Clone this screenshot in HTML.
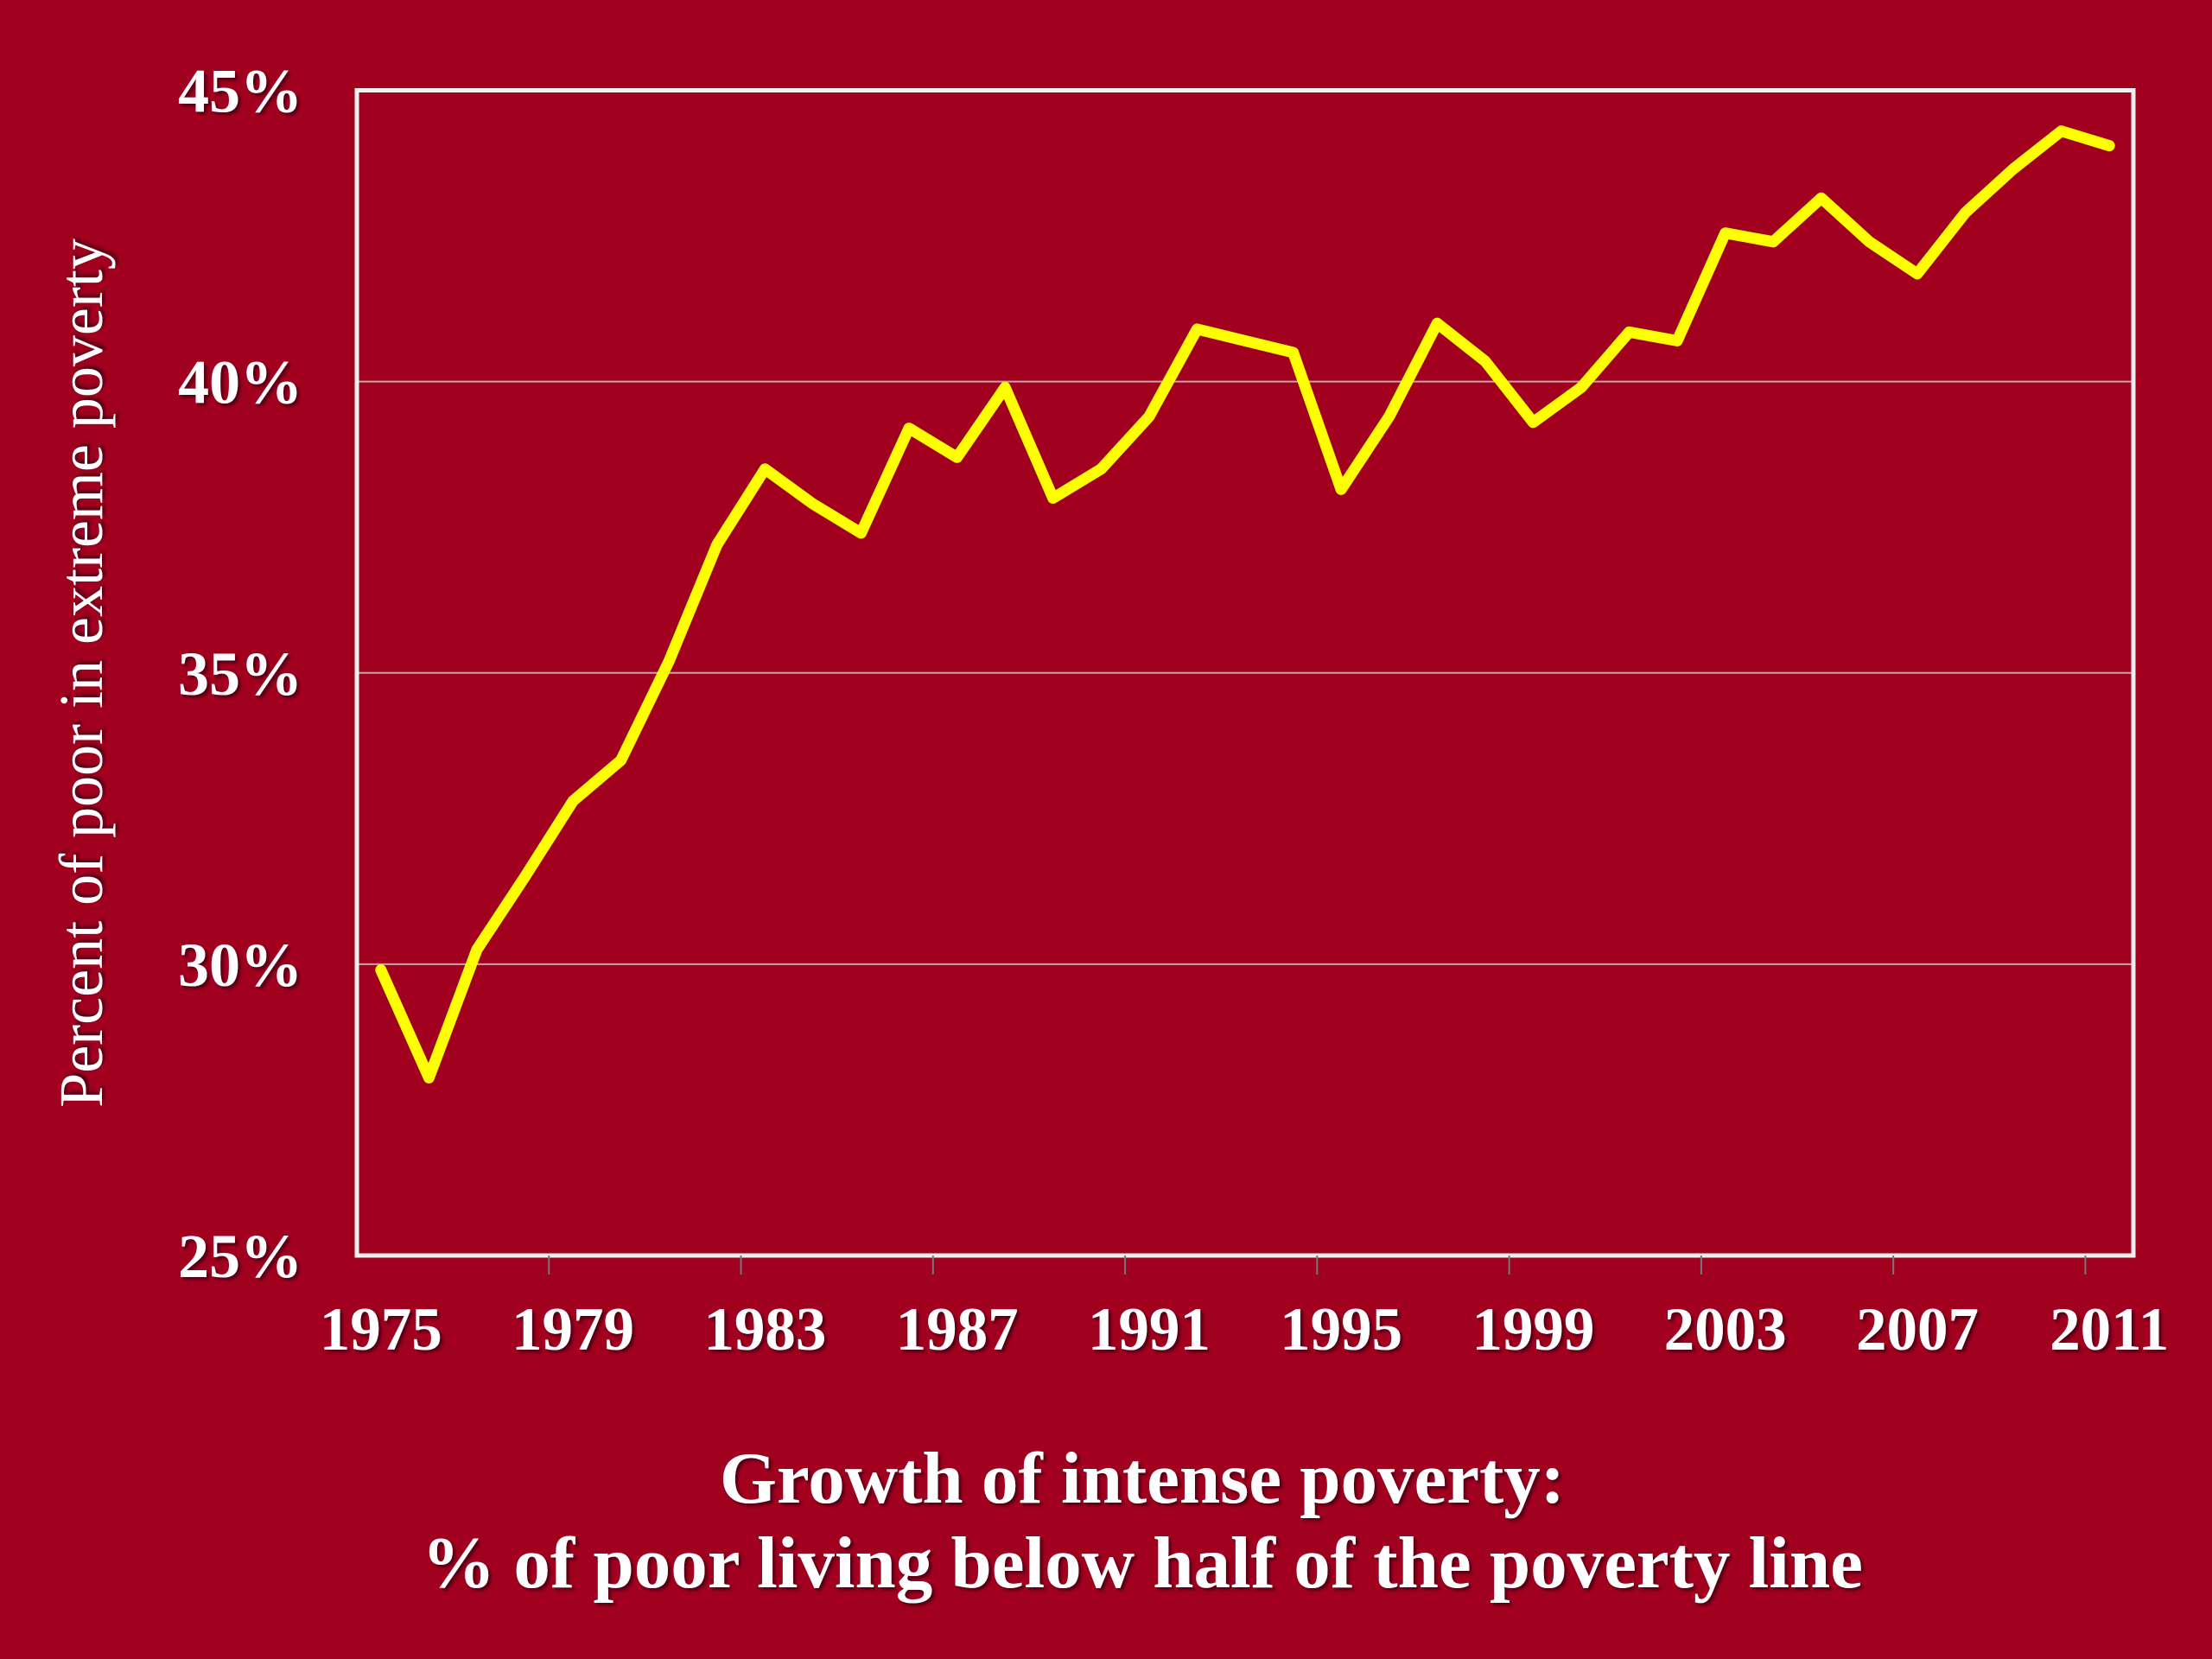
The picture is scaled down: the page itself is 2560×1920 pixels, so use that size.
<!DOCTYPE html>
<html><head><meta charset="utf-8"><style>
html,body{margin:0;padding:0;background:#A1001F;}
svg{display:block;}
text{font-family:"Liberation Serif",serif;font-weight:bold;fill:#fff;}
</style></head><body>
<svg id="chart" width="2560" height="1920" viewBox="0 0 2560 1920" xmlns="http://www.w3.org/2000/svg">
<defs><filter id="sh" x="-10%" y="-10%" width="120%" height="130%"><feDropShadow dx="3" dy="3" stdDeviation="1.5" flood-color="#3a0008" flood-opacity="0.8"/></filter></defs>
<rect x="0" y="0" width="2560" height="1920" fill="#A1001F"/>
<g id="grid"></g>
<g id="axes"></g>
<g id="series"></g>
<g id="labels" filter="url(#sh)"></g>
<text filter="url(#sh)" x="0" y="0" font-size="72" font-weight="normal" style="font-weight:normal" text-anchor="middle" transform="translate(118,779) rotate(-90)">Percent of poor in extreme poverty</text>
<text filter="url(#sh)" x="1322" y="1739" font-size="85" text-anchor="middle">Growth of intense poverty:</text>
<text filter="url(#sh)" x="1322" y="1837" font-size="85" text-anchor="middle">% of poor living below half of the poverty line</text>
</svg>
<script>
const years = [1975,1976,1977,1978,1979,1980,1981,1982,1983,1984,1985,1986,1987,1988,1989,1990,1991,1992,1993,1994,1995,1996,1997,1998,1999,2000,2001,2002,2003,2004,2005,2006,2007,2008,2009,2010,2011];
const values = [29.9,28.05,30.25,31.5,32.8,33.5,35.2,37.2,38.5,37.9,37.4,39.2,38.7,39.9,38.0,38.5,39.4,40.9,40.7,40.5,38.15,39.4,41.0,40.35,39.3,39.9,40.85,40.7,42.55,42.4,43.15,42.4,41.85,42.9,43.65,44.3,44.05];
const yTicks = [25,30,35,40,45];
const xTickLabels = ["1975","1979","1983","1987","1991","1995","1999","2003","2007","2011"];

const NS="http://www.w3.org/2000/svg";
const L=413,R=2469,T=104.5,B=1453;
const yMin=25,yMax=45;
const band=(R-L)/years.length;
function xScale(i){return L+band*(i+0.5);}
function yScale(v){return B-(v-yMin)/(yMax-yMin)*(B-T);}
function mk(tag,attrs,parent){const e=document.createElementNS(NS,tag);for(const k in attrs)e.setAttribute(k,attrs[k]);parent.appendChild(e);return e;}
const grid=document.getElementById('grid'),axes=document.getElementById('axes'),series=document.getElementById('series'),labels=document.getElementById('labels');

yTicks.forEach(v=>{
  const y=yScale(v);
  if(v>yMin&&v<yMax){
    const g=mk('line',{x1:L,x2:R,y1:y,y2:y,stroke:'#c9a3ab','stroke-width':2},grid);
    
    
  }
  const t=mk('text',{x:350,y:y+25,'font-size':72,'text-anchor':'end'},labels);
  t.textContent=v+'%';
  
  
});

const frame=mk('rect',{x:L,y:T,width:R-L,height:B-T,fill:'none',stroke:'#f4f0f0','stroke-width':5},axes);



xTickLabels.forEach(lab=>{
  const i=years.indexOf(+lab);
  const xb=L+band*i;
  if(i>0){
    const tk=mk('line',{x1:xb,x2:xb,y1:B,y2:B+22,stroke:'#777','stroke-width':2},axes);
    
    
  }
  const t=mk('text',{x:xScale(i),y:1562,'font-size':71,'text-anchor':'middle'},labels);
  t.textContent=lab;
  
  
});

const pts=values.map((v,i)=>xScale(i).toFixed(1)+','+yScale(v).toFixed(1)).join(' ');
const line=mk('polyline',{points:pts,fill:'none',stroke:'#FFFF00','stroke-width':13,'stroke-linejoin':'round','stroke-linecap':'round'},series);


</script>
</body></html>
